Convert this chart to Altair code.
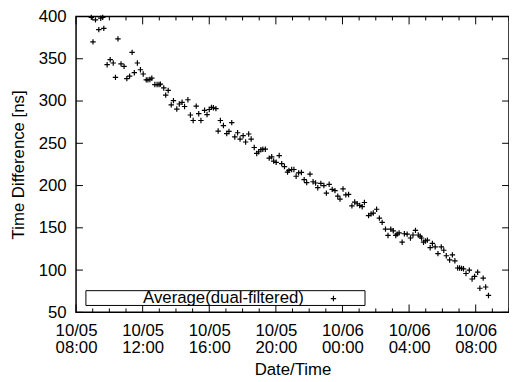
import altair as alt
import pandas as pd

YEAR = 2008
SERIES_NAME = "Average(dual-filtered)"

times = [
    "10/05 08:55", "10/05 09:01", "10/05 09:10", "10/05 09:22", "10/05 09:29", "10/05 09:36",
    "10/05 09:40", "10/05 09:52", "10/05 10:03", "10/05 10:14", "10/05 10:22", "10/05 10:31",
    "10/05 10:42", "10/05 10:53", "10/05 11:03", "10/05 11:13", "10/05 11:22", "10/05 11:30",
    "10/05 11:41", "10/05 11:52", "10/05 12:02", "10/05 12:13", "10/05 12:19", "10/05 12:26",
    "10/05 12:33", "10/05 12:44", "10/05 12:52", "10/05 12:59", "10/05 13:04", "10/05 13:16",
    "10/05 13:23", "10/05 13:32", "10/05 13:43", "10/05 13:51", "10/05 14:03", "10/05 14:12",
    "10/05 14:22", "10/05 14:31", "10/05 14:43", "10/05 14:52", "10/05 15:02", "10/05 15:13",
    "10/05 15:22", "10/05 15:30", "10/05 15:43", "10/05 15:52", "10/05 16:00", "10/05 16:08",
    "10/05 16:15", "10/05 16:24", "10/05 16:32", "10/05 16:40", "10/05 16:51", "10/05 17:03",
    "10/05 17:11", "10/05 17:21", "10/05 17:32", "10/05 17:42", "10/05 17:51", "10/05 18:02",
    "10/05 18:11", "10/05 18:22", "10/05 18:31", "10/05 18:42", "10/05 18:51", "10/05 18:58",
    "10/05 19:06", "10/05 19:13", "10/05 19:22", "10/05 19:36", "10/05 19:45", "10/05 19:52",
    "10/05 20:01", "10/05 20:12", "10/05 20:21", "10/05 20:31", "10/05 20:42", "10/05 20:47",
    "10/05 20:57", "10/05 21:05", "10/05 21:13", "10/05 21:22", "10/05 21:32", "10/05 21:42",
    "10/05 21:51", "10/05 22:03", "10/05 22:14", "10/05 22:23", "10/05 22:31", "10/05 22:42",
    "10/05 22:53", "10/05 23:02", "10/05 23:12", "10/05 23:23", "10/05 23:33", "10/05 23:43",
    "10/05 23:51",
    "10/06 00:02", "10/06 00:12", "10/06 00:22", "10/06 00:34", "10/06 00:44", "10/06 00:53",
    "10/06 01:02", "10/06 01:11", "10/06 01:19", "10/06 01:34", "10/06 01:43", "10/06 01:51",
    "10/06 02:03", "10/06 02:13", "10/06 02:23", "10/06 02:35", "10/06 02:44", "10/06 02:54",
    "10/06 03:03", "10/06 03:12", "10/06 03:17", "10/06 03:24", "10/06 03:35", "10/06 03:43",
    "10/06 03:53", "10/06 04:05", "10/06 04:14", "10/06 04:23", "10/06 04:33", "10/06 04:40",
    "10/06 04:45", "10/06 04:52", "10/06 04:59", "10/06 05:06", "10/06 05:16", "10/06 05:24",
    "10/06 05:34", "10/06 05:44", "10/06 05:56", "10/06 06:05", "10/06 06:14", "10/06 06:26",
    "10/06 06:36", "10/06 06:45", "10/06 06:55", "10/06 07:02", "10/06 07:09", "10/06 07:16",
    "10/06 07:25", "10/06 07:37", "10/06 07:47", "10/06 07:56", "10/06 08:07", "10/06 08:15",
    "10/06 08:27", "10/06 08:36", "10/06 08:46",
]

values = [
    399, 370, 396, 384.5, 398, 399,
    386, 343, 349, 345, 328, 373.5,
    344, 341, 326.5, 329.5, 357.5, 333.5,
    345, 337, 332, 325, 325, 325.5,
    327, 319.5, 319.5, 319.5, 320, 315.5,
    307, 312.5, 295.5, 300.5, 290.5, 296.5,
    298.5, 293.5, 301.5, 283.5, 277, 294,
    285, 277, 289, 284, 290, 292.5,
    292, 291, 264.5, 277, 271, 261.5,
    264, 274.5, 257.5, 262.5, 255, 259,
    251.5, 261, 255, 245, 238, 240,
    242.5, 243, 243, 232.5, 234, 229,
    227.5, 235.5, 226, 222.5, 216, 218,
    219, 219, 211, 215, 215.5, 207,
    203.5, 213.5, 204.5, 203, 197.5, 202.5,
    200, 191, 201.5, 195.5, 194, 187.5,
    184,
    196, 189, 189.5, 176, 180.5, 178.5,
    176.5, 175, 180, 164.5, 166.5, 167.5,
    172, 161.5, 156.5, 148.5, 141, 148.5,
    146.5, 141, 142.5, 144, 133, 143,
    142.5, 138, 141.5, 147, 141.5, 140,
    138, 133, 134.5, 135.5, 126.5, 131.5,
    127.5, 119.5, 127.5, 123.5, 117, 112,
    118, 111, 102.5, 102.5, 102, 101.5,
    96, 100, 89.5, 92.5, 97.5, 78.5,
    90.5, 80, 70,
]

y_ticks = [50, 100, 150, 200, 250, 300, 350, 400]
x_label_hours = [0, 4, 8, 12, 16, 20, 24]  # hours after 10/05 08:00


def iso(s):
    md, hm = s.split(" ")
    m, d = md.split("/")
    return f"{YEAR}-{m}-{d}T{hm}:00"


df = pd.DataFrame({"time": [iso(t) for t in times], "value": values})

hours = pd.date_range(f"{YEAR}-10-05 08:00", periods=27, freq="h")
tick_df = pd.DataFrame({
    "time": [h.strftime("%Y-%m-%dT%H:%M:00") for h in hours],
    "major": [i % 4 == 0 for i in range(27)],
})
major_df = tick_df[tick_df["major"]].reset_index(drop=True)
minor_df = tick_df[~tick_df["major"]].reset_index(drop=True)
ytick_df = pd.DataFrame({"value": y_ticks})

W, H = 439, 300
FONT = "Liberation Sans"
FS = 17

xscale = alt.Scale(domain=[
    alt.DateTime(year=YEAR, month=10, date=5, hours=8),
    alt.DateTime(year=YEAR, month=10, date=6, hours=10),
])
yscale = alt.Scale(domain=[50, 400], nice=False, zero=False)

xaxis = alt.Axis(
    values=[alt.DateTime(year=YEAR, month=10, date=5 + (8 + k) // 24, hours=(8 + k) % 24)
            for k in x_label_hours],
    labelExpr="[timeFormat(datum.value, '%m/%d'), timeFormat(datum.value, '%H:%M')]",
    title="Date/Time",
    labelFlush=False,
    labelOverlap=False,
    labelPadding=10,
    labelLineHeight=18,
    titlePadding=6,
)
yaxis = alt.Axis(values=y_ticks, title="Time Difference [ns]", labelPadding=10, titlePadding=11)

X = alt.X("time:T", scale=xscale, axis=xaxis)
Y = alt.Y("value:Q", scale=yscale, axis=yaxis)

plus = "M-1,0L1,0M0,-1L0,1"

points = alt.Chart(df).mark_point(
    shape=plus, size=30, filled=False, color="black", strokeWidth=1.2, opacity=1
).encode(x=X, y=Y)


def xticks(data, y0, y1):
    return alt.Chart(data).mark_rule(color="black", strokeWidth=1).encode(
        x=X, y=alt.value(y0), y2=alt.value(y1),
    )


def yticks(x0, x1):
    return alt.Chart(ytick_df).mark_rule(color="black", strokeWidth=1).encode(
        y=Y, x=alt.value(x0), x2=alt.value(x1),
    )


one = pd.DataFrame({"a": [0]})
legend_box = alt.Chart(one).mark_rect(fill="white", stroke="black", strokeWidth=1).encode(
    x=alt.value(10), x2=alt.value(293), y=alt.value(278), y2=alt.value(293)
)
legend_text = alt.Chart(one).mark_text(
    align="right", baseline="middle", fontSize=FS, font=FONT, color="black"
).encode(x=alt.value(231), y=alt.value(286), text=alt.value(SERIES_NAME))
legend_sym = alt.Chart(one).mark_point(
    shape=plus, size=30, filled=False, color="black", strokeWidth=1.2, opacity=1
).encode(x=alt.value(261), y=alt.value(286))

chart = alt.layer(
    points,
    xticks(major_df, H, H - 8), xticks(minor_df, H, H - 4),
    xticks(major_df, 0, 8), xticks(minor_df, 0, 4),
    yticks(0, 7), yticks(W, W - 7),
    legend_box, legend_text, legend_sym,
).properties(
    width=W, height=H,
    autosize=alt.AutoSizeParams(type="none"),
    padding={"left": 69, "top": 6, "right": 0, "bottom": 68},
).configure_axis(
    labelFont=FONT, titleFont=FONT, labelFontSize=FS, titleFontSize=FS,
    labelColor="black", titleColor="black", titleFontWeight="normal",
    grid=False, domain=False, ticks=False,
).configure_view(stroke="black", strokeWidth=1.5)

chart.save("out.html", embed_options={"renderer": "svg", "actions": False})
